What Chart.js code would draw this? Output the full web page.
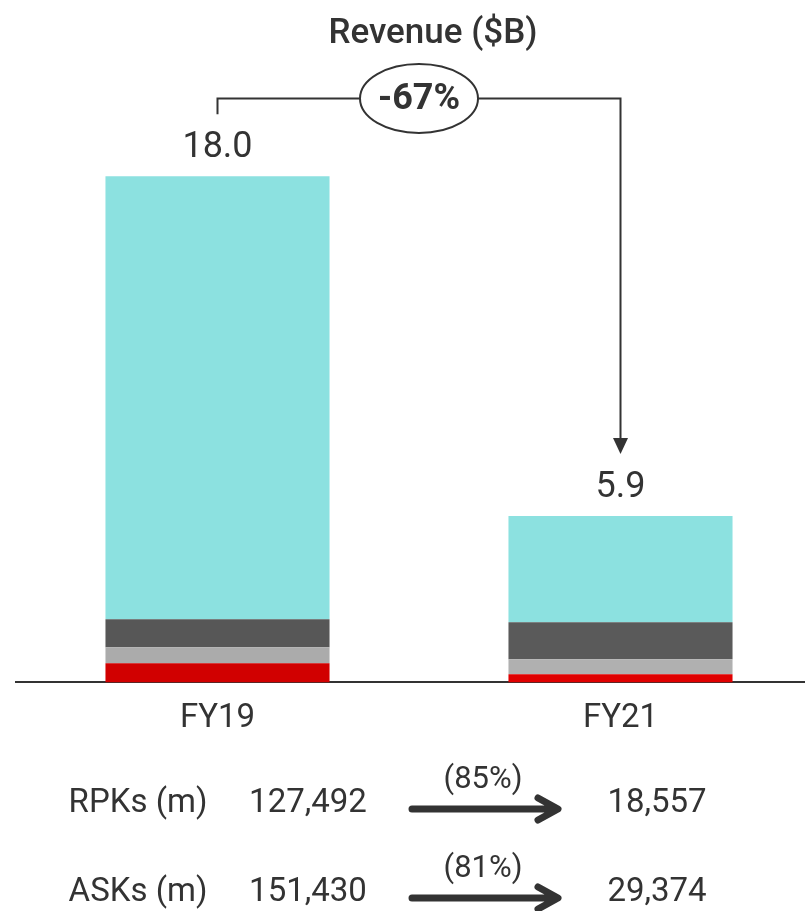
<!DOCTYPE html>
<html lang="en">
<head>
    <meta charset="UTF-8">
    <title>Revenue ($B)</title>
    <script src="https://cdn.jsdelivr.net/npm/chart.js"></script>
    <style>
        body {
            margin: 0;
            background: #ffffff;
            overflow: hidden;
        }
        #wrap {
            width: 822px;
            height: 911px;
        }
    </style>
</head>
<body>
    <div id="wrap"><canvas id="chart" width="822" height="911"></canvas></div>

    <script>
        const years = ['FY19', 'FY21'];
        // stacked from the bottom up
        const redSeg = [0.68, 0.29];
        const lightGreySeg = [0.57, 0.53];
        const darkGreySeg = [1.00, 1.32];
        const cyanSeg = [15.75, 3.78];
        const revenueChange = '-67%';

        const metricNames = ['RPKs (m)', 'ASKs (m)'];
        const metricFY19 = [127492, 151430];
        const metricFY21 = [18557, 29374];
        const metricChange = ['(85%)', '(81%)'];

        const ink = '#333333';
        const font = 'Roboto';

        const overlay = {
            id: 'overlay',
            afterDraw(chart) {
                const ctx = chart.ctx;
                const yScale = chart.scales.y;
                const bars = chart.getDatasetMeta(3).data;
                ctx.save();
                ctx.fillStyle = ink;
                ctx.strokeStyle = ink;
                ctx.textAlign = 'center';
                ctx.textBaseline = 'alphabetic';

                // title
                ctx.font = '500 35px ' + font;
                ctx.fillText('Revenue ($B)', 433, 43);

                // totals above bars
                const tops = [];
                ctx.font = '400 36px ' + font;
                years.forEach((y, i) => {
                    const total = redSeg[i] + lightGreySeg[i] + darkGreySeg[i] + cyanSeg[i];
                    const top = yScale.getPixelForValue(total);
                    tops.push(top);
                    ctx.fillText(total.toFixed(1), bars[i].x, top - 19);
                });

                // bracket + arrow
                const x0 = bars[0].x, x1 = bars[1].x;
                const by = 98.5;
                const cx = (x0 + x1) / 2;
                const rx = 59, ry = 34.5;
                ctx.lineWidth = 2;
                ctx.beginPath();
                ctx.moveTo(x0, tops[0] - 62);
                ctx.lineTo(x0, by);
                ctx.lineTo(cx - rx, by);
                ctx.moveTo(cx + rx, by);
                ctx.lineTo(x1, by);
                ctx.lineTo(x1, tops[1] - 78);
                ctx.stroke();
                ctx.beginPath();
                ctx.moveTo(x1 - 7.5, tops[1] - 78);
                ctx.lineTo(x1 + 7.5, tops[1] - 78);
                ctx.lineTo(x1, tops[1] - 62);
                ctx.closePath();
                ctx.fill();
                ctx.beginPath();
                ctx.ellipse(cx, by, rx, ry, 0, 0, Math.PI * 2);
                ctx.stroke();
                ctx.font = '700 36px ' + font;
                ctx.fillText(revenueChange, cx, 109);

                // bottom metric rows
                const rowBase = [812, 901];
                metricNames.forEach((name, i) => {
                    const b = rowBase[i];
                    ctx.font = '400 33px ' + font;
                    ctx.fillText(name, 138, b);
                    ctx.fillText(metricFY19[i].toLocaleString('en-US'), 308, b);
                    ctx.fillText(metricFY21[i].toLocaleString('en-US'), 657, b);
                    ctx.font = '400 31px ' + font;
                    ctx.fillText(metricChange[i], 483, b - 24);
                    const ay = b - 3;
                    ctx.lineWidth = 7;
                    ctx.lineCap = 'round';
                    ctx.lineJoin = 'round';
                    ctx.beginPath();
                    ctx.moveTo(412, ay);
                    ctx.lineTo(557, ay);
                    ctx.moveTo(538, ay - 11);
                    ctx.lineTo(558, ay);
                    ctx.lineTo(538, ay + 11);
                    ctx.stroke();
                });
                ctx.restore();
            }
        };

        const ctx = document.getElementById('chart').getContext('2d');
        const chart = new Chart(ctx, {
            type: 'bar',
            data: {
                labels: years,
                datasets: [
                    { label: 'Red', data: redSeg, backgroundColor: ['#d10000', '#e00000'] },
                    { label: 'Light grey', data: lightGreySeg, backgroundColor: ['#ababab', '#b0b0b0'] },
                    { label: 'Dark grey', data: darkGreySeg, backgroundColor: ['#575757', '#5a5a5a'] },
                    { label: 'Cyan', data: cyanSeg, backgroundColor: '#8ce1e0' }
                ]
            },
            options: {
                responsive: false,
                animation: false,
                layout: { padding: { top: 120, left: 16, right: 0, bottom: 163 } },
                datasets: { bar: { categoryPercentage: 1, barPercentage: 0.556, borderWidth: 0 } },
                plugins: {
                    legend: { display: false },
                    tooltip: { enabled: false }
                },
                scales: {
                    x: {
                        stacked: true,
                        grid: { display: false },
                        border: { display: true, color: ink, width: 2 },
                        ticks: { color: ink, padding: 9, font: { family: font, size: 33 } }
                    },
                    y: {
                        stacked: true,
                        display: false,
                        min: 0,
                        max: 20
                    }
                }
            },
            plugins: [overlay]
        });
    </script>
</body>
</html>
